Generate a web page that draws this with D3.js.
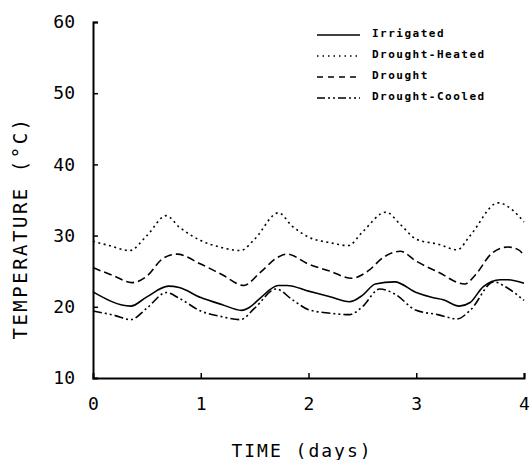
<!DOCTYPE html>
<html>
<head>
<meta charset="utf-8">
<script src="https://cdn.jsdelivr.net/npm/d3@7"></script>
<style>
  body { margin: 0; background: #fff; }
  text { font-family: "DejaVu Sans Mono", monospace; fill: #000; }
</style>
</head>
<body>
<div id="chart"></div>
<script>
// series data (day, temperature °C)
const irrigatedDays = [0, 0.35, 0.5, 0.7, 0.8, 1.0, 1.2, 1.38, 1.45, 1.55, 1.72, 1.8, 2.0, 2.2, 2.38, 2.5, 2.62, 2.8, 3.0, 3.15, 3.25, 3.4, 3.5, 3.62, 3.78, 3.85, 4.0];
const irrigatedTemps = [22.1, 20.1, 21.4, 22.9, 22.7, 21.3, 20.3, 19.5, 19.9, 21.2, 23.0, 23.0, 22.2, 21.4, 20.7, 21.6, 23.2, 23.5, 22.0, 21.3, 21.0, 20.1, 20.6, 22.8, 23.8, 23.8, 23.3];

const heatedDays = [0, 0.15, 0.34, 0.5, 0.68, 0.8, 1.0, 1.2, 1.37, 1.5, 1.72, 1.85, 2.0, 2.2, 2.37, 2.5, 2.72, 2.85, 3.0, 3.2, 3.38, 3.5, 3.76, 3.9, 4.0];
const heatedTemps = [29.2, 28.6, 27.9, 30.0, 32.8, 31.2, 29.3, 28.3, 27.9, 29.5, 33.2, 31.3, 29.8, 29.0, 28.6, 30.5, 33.3, 31.6, 29.5, 28.8, 28.0, 30.0, 34.6, 33.5, 31.9];

const droughtDays = [0, 0.2, 0.36, 0.5, 0.65, 0.78, 1.0, 1.2, 1.4, 1.55, 1.72, 1.8, 2.0, 2.2, 2.4, 2.55, 2.7, 2.85, 3.0, 3.2, 3.45, 3.55, 3.7, 3.85, 3.95, 4.0];
const droughtTemps = [25.5, 24.3, 23.4, 24.3, 26.8, 27.4, 26.0, 24.5, 23.0, 24.8, 27.0, 27.4, 26.0, 25.0, 24.0, 25.0, 27.0, 27.8, 26.4, 24.9, 23.2, 24.5, 27.5, 28.4, 28.0, 27.2];

const cooledDays = [0, 0.2, 0.35, 0.5, 0.68, 0.8, 1.0, 1.2, 1.37, 1.5, 1.7, 1.85, 2.0, 2.2, 2.38, 2.5, 2.66, 2.8, 3.0, 3.2, 3.38, 3.5, 3.72, 3.85, 4.0];
const cooledTemps = [19.4, 18.8, 18.2, 19.8, 22.0, 21.2, 19.4, 18.6, 18.2, 19.8, 22.5, 21.0, 19.6, 19.1, 18.9, 20.0, 22.5, 21.8, 19.5, 18.9, 18.3, 19.5, 23.5, 22.6, 20.9];

const seriesNames = ["Irrigated", "Drought-Heated", "Drought", "Drought-Cooled"];
const xTicks = [0, 1, 2, 3, 4];
const yTicks = [10, 20, 30, 40, 50, 60];

const width = 531, height = 460;
const margin = { left: 93, right: 7, top: 22, bottom: 82 };

const svg = d3.select("#chart").append("svg")
    .attr("width", width)
    .attr("height", height);

const x = d3.scaleLinear().domain([0, 4]).range([margin.left, width - margin.right]);
const y = d3.scaleLinear().domain([10, 60]).range([height - margin.bottom, margin.top]);

// axes with inward ticks
const xAxis = svg.append("g")
    .attr("transform", `translate(0,${y(10)})`)
    .call(d3.axisBottom(x).tickValues(xTicks).tickFormat(d3.format("d")).tickSize(-5).tickPadding(19));

const yAxis = svg.append("g")
    .attr("transform", `translate(${x(0)},0)`)
    .call(d3.axisLeft(y).tickValues(yTicks).tickFormat(d3.format("d")).tickSize(-5).tickPadding(18));

[xAxis, yAxis].forEach(g => {
    g.select(".domain").attr("stroke", "#000").attr("stroke-width", 2);
    g.selectAll(".tick line").attr("stroke", "#000").attr("stroke-width", 1.5);
    g.selectAll(".tick text")
        .style("font-family", "'DejaVu Sans Mono', monospace")
        .style("font-size", "18px")
        .attr("fill", "#000");
});
xAxis.selectAll(".tick").filter(d => d === 0).select("line").remove();
yAxis.selectAll(".tick").filter(d => d === 10).select("line").remove();

// axis titles
svg.append("text")
    .attr("x", 302)
    .attr("y", 457)
    .attr("text-anchor", "middle")
    .style("font-size", "18px")
    .style("letter-spacing", "2px")
    .text("TIME (days)");

svg.append("text")
    .attr("transform", "translate(27,228) rotate(-90)")
    .attr("text-anchor", "middle")
    .style("font-size", "19px")
    .style("letter-spacing", "2.5px")
    .text("TEMPERATURE (°C)");

// lines
const series = [
    { name: seriesNames[0], days: irrigatedDays, temps: irrigatedTemps, dash: null },
    { name: seriesNames[1], days: heatedDays, temps: heatedTemps, dash: "2,3.5" },
    { name: seriesNames[2], days: droughtDays, temps: droughtTemps, dash: "8,4" },
    { name: seriesNames[3], days: cooledDays, temps: cooledTemps, dash: "9,3,2,3,2,3" }
];

const line = d3.line()
    .x(d => x(d[0]))
    .y(d => y(d[1]))
    .curve(d3.curveMonotoneX);

series.forEach(s => {
    svg.append("path")
        .datum(s.days.map((d, i) => [d, s.temps[i]]))
        .attr("d", line)
        .attr("fill", "none")
        .attr("stroke", "#000")
        .attr("stroke-width", 1.6)
        .attr("stroke-dasharray", s.dash);
});

// legend
const legend = svg.append("g");
series.forEach((s, i) => {
    const ly = 33 + i * 21;
    legend.append("line")
        .attr("x1", 317).attr("x2", 360)
        .attr("y1", ly + 2).attr("y2", ly + 2)
        .attr("stroke", "#000")
        .attr("stroke-width", 1.3)
        .attr("stroke-dasharray", s.dash ? (i === 1 ? "1.5,4" : i === 2 ? "6,5" : "8,3,2,3,2,3") : null);
    legend.append("text")
        .attr("x", 372)
        .attr("y", ly)
        .attr("dy", "0.35em")
        .style("font-size", "11px")
        .style("font-weight", "bold")
        .style("letter-spacing", "1.5px")
        .text(s.name);
});
</script>
</body>
</html>
